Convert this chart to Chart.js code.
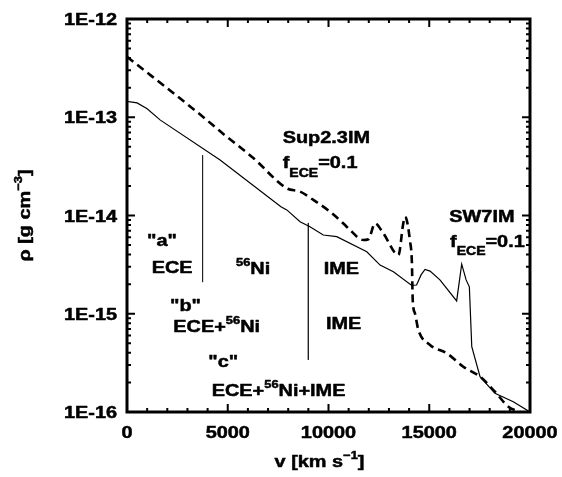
<!DOCTYPE html>
<html>
<head>
<meta charset="utf-8">
<script src="https://cdn.jsdelivr.net/npm/chart.js@4.4.1/dist/chart.umd.min.js"></script>
<style>
  html, body { margin: 0; padding: 0; background: #fff; }
  #grafico { display: block; }
</style>
</head>
<body>
<canvas id="grafico" width="562" height="477"></canvas>
<script>
// perfil SW7IM (linha cheia)
const sw7Velocidade = [0, 500, 1000, 1640, 4620, 7640, 7930, 8590, 9080, 9740, 10410, 11900, 12560, 13220, 14130, 14370, 14600, 14790, 15040, 15530, 16360, 16610, 16830, 16990, 17110, 17520, 18260, 19170, 20000];
const sw7Densidade = [1.45e-13, 1.40e-13, 1.22e-13, 9.4e-14, 3.67e-14, 1.23e-14, 1.14e-14, 8.65e-15, 7.69e-15, 6.33e-15, 6.09e-15, 4.28e-15, 3.13e-15, 2.68e-15, 1.94e-15, 1.96e-15, 2.5e-15, 2.82e-15, 2.72e-15, 2.21e-15, 1.35e-15, 3.2e-15, 2.21e-15, 1.88e-15, 4.62e-16, 2.29e-16, 1.55e-16, 1.27e-16, 1.0e-16];

// perfil Sup2.3IM (tracejado)
const supVelocidade = [0, 3720, 4780, 6270, 7930, 8590, 9250, 10080, 10820, 11070, 11730, 11980, 12310, 12720, 13470, 13710, 13800, 14050, 14140, 14180, 14290, 14460, 15040, 15870, 16690, 17520, 18260, 18930, 19500];
const supDensidade = [4.13e-13, 1.03e-13, 6.76e-14, 3.85e-14, 1.89e-14, 1.75e-14, 1.44e-14, 1.09e-14, 8.0e-15, 7.1e-15, 5.63e-15, 5.73e-15, 8.3e-15, 6.6e-15, 3.96e-15, 8.3e-15, 9.7e-15, 5.4e-15, 3.26e-15, 1.38e-15, 1.01e-15, 6.84e-16, 4.81e-16, 3.96e-16, 2.89e-16, 2.29e-16, 1.61e-16, 1.13e-16, 1.0e-16];

// limites das zonas "a" e "c"
const limiteVelocidade = [3750, 9000];
const limiteTopo = [4.1e-14, 8.4e-15];
const limiteBase = [2.1e-15, 3.4e-16];

const ticksX = [0, 5000, 10000, 15000, 20000];
const ticksY = [1e-16, 1e-15, 1e-14, 1e-13, 1e-12];
const rotulosY = ["1E-16", "1E-15", "1E-14", "1E-13", "1E-12"];

// textos dentro do grafico: [texto, velocidade, densidade] (canto esquerdo, linha de base)
const anotacoes = [
    ["Sup2.3IM", 7727, 5.41e-14],
    ["f_{ECE}=0.1", 7727, 3.04e-14],
    ["SW7IM", 15996, 8.65e-15],
    ["f_{ECE}=0.1", 16030, 4.83e-15],
    ["\"a\"", 993, 4.9e-15],
    ["ECE", 1226, 2.6e-15],
    ["^{56}Ni", 5410, 2.54e-15],
    ["IME", 9762, 2.51e-15],
    ["\"b\"", 2134, 1.07e-15],
    ["ECE+^{56}Ni", 2298, 6.52e-16],
    ["IME", 9876, 7.0e-16],
    ["\"c\"", 4035, 2.87e-16],
    ["ECE+^{56}Ni+IME", 4204, 1.46e-16]
];

const FONTE = '"Liberation Sans", Arial, sans-serif';
const ESTICAR = 1.17;

function pares(xs, ys) {
    return xs.map((v, i) => ({ x: v, y: ys[i] }));
}

// quebra "ECE+^{56}Ni" em pedacos normais / sobrescritos / subscritos
function pedacos(str) {
    const lista = [];
    const re = /([\^_])\{([^}]*)\}|([^\^_]+)/g;
    let m;
    while ((m = re.exec(str)) !== null) {
        if (m[3]) lista.push({ t: m[3], tipo: "n" });
        else lista.push({ t: m[2], tipo: m[1] === "^" ? "sup" : "sub" });
    }
    return lista;
}

function fontePara(tipo) {
    if (tipo === "sup") return "bold 11px " + FONTE;
    if (tipo === "sub") return "bold 12px " + FONTE;
    return "bold 17px " + FONTE;
}

function larguraRica(ctx, str) {
    let w = 0;
    for (const p of pedacos(str)) {
        ctx.font = fontePara(p.tipo);
        w += ctx.measureText(p.t).width;
    }
    return w * ESTICAR;
}

// texto esticado na horizontal, com um contorno fino para ficar mais pesado
function textoRico(ctx, str, x, y, alinhar) {
    const w = larguraRica(ctx, str);
    let x0 = x;
    if (alinhar === "center") x0 = x - w / 2;
    else if (alinhar === "right") x0 = x - w;
    ctx.save();
    ctx.translate(x0, y);
    ctx.scale(ESTICAR, 1);
    ctx.fillStyle = "#000";
    ctx.strokeStyle = "#000";
    ctx.lineWidth = 0.5;
    ctx.lineJoin = "round";
    ctx.textBaseline = "alphabetic";
    ctx.textAlign = "left";
    let cx = 0;
    for (const p of pedacos(str)) {
        ctx.font = fontePara(p.tipo);
        const dy = p.tipo === "sup" ? -8 : (p.tipo === "sub" ? 8.5 : 0);
        ctx.fillText(p.t, cx, dy);
        ctx.strokeText(p.t, cx, dy);
        cx += ctx.measureText(p.t).width;
    }
    ctx.restore();
}

// moldura com ticks para dentro nos quatro lados, rotulos e textos
const molduraEixos = {
    id: "molduraEixos",
    afterDatasetsDraw(chart) {
        const { ctx, chartArea: a, scales: { x, y } } = chart;
        ctx.save();
        ctx.strokeStyle = "#000";
        ctx.lineWidth = 2;
        ctx.beginPath();
        for (let v = x.min; v <= x.max; v += 1000) {
            const px = x.getPixelForValue(v);
            const len = v % 5000 === 0 ? 8 : 4;
            ctx.moveTo(px, a.bottom); ctx.lineTo(px, a.bottom - len);
            ctx.moveTo(px, a.top); ctx.lineTo(px, a.top + len);
        }
        for (let e = -16; e <= -12; e++) {
            for (let m = 1; m <= 9; m++) {
                const val = m * Math.pow(10, e);
                if (val > y.max * 1.0001) break;
                const py = y.getPixelForValue(val);
                const len = m === 1 ? 8 : 4;
                ctx.moveTo(a.left, py); ctx.lineTo(a.left + len, py);
                ctx.moveTo(a.right, py); ctx.lineTo(a.right - len, py);
            }
        }
        ctx.stroke();

        ctx.lineWidth = 3;
        ctx.strokeRect(a.left, a.top, a.right - a.left, a.bottom - a.top);

        ticksX.forEach(v => textoRico(ctx, String(v), x.getPixelForValue(v), a.bottom + 26, "center"));
        ticksY.forEach((v, i) => textoRico(ctx, rotulosY[i], a.left - 10, y.getPixelForValue(v) + 6, "right"));

        anotacoes.forEach(([txt, v, r]) => textoRico(ctx, txt, x.getPixelForValue(v), y.getPixelForValue(r), "left"));

        // titulos dos eixos
        textoRico(ctx, "v [km s^{\u22121}]", 319.5, 467, "center");
        ctx.save();
        ctx.translate(30, (a.top + a.bottom) / 2);
        ctx.rotate(-Math.PI / 2);
        textoRico(ctx, "\u03c1 [g cm^{\u22123}]", 0, 0, "center");
        ctx.restore();
        ctx.restore();
    }
};

const ctx = document.getElementById("grafico");

new Chart(ctx, {
    type: "line",
    data: {
        datasets: [
            {
                label: "SW7IM",
                data: pares(sw7Velocidade, sw7Densidade),
                borderColor: "#000",
                borderWidth: 1.2
            },
            {
                label: "Sup2.3IM",
                data: pares(supVelocidade, supDensidade),
                borderColor: "#000",
                borderWidth: 2.6,
                borderDash: [8, 5],
                cubicInterpolationMode: "monotone"
            },
            {
                label: "limite a",
                data: [{ x: limiteVelocidade[0], y: limiteTopo[0] }, { x: limiteVelocidade[0], y: limiteBase[0] }],
                borderColor: "#222",
                borderWidth: 1
            },
            {
                label: "limite c",
                data: [{ x: limiteVelocidade[1], y: limiteTopo[1] }, { x: limiteVelocidade[1], y: limiteBase[1] }],
                borderColor: "#222",
                borderWidth: 1
            }
        ]
    },
    options: {
        responsive: false,
        animation: false,
        devicePixelRatio: 1,
        layout: { padding: { left: 127, right: 32, top: 19, bottom: 65 } },
        elements: { point: { radius: 0 }, line: { tension: 0 } },
        plugins: {
            legend: { display: false },
            tooltip: { enabled: false }
        },
        scales: {
            x: { type: "linear", min: 0, max: 20000, display: false },
            y: { type: "logarithmic", min: 1e-16, max: 1e-12, display: false }
        }
    },
    plugins: [molduraEixos]
});
</script>
</body>
</html>
